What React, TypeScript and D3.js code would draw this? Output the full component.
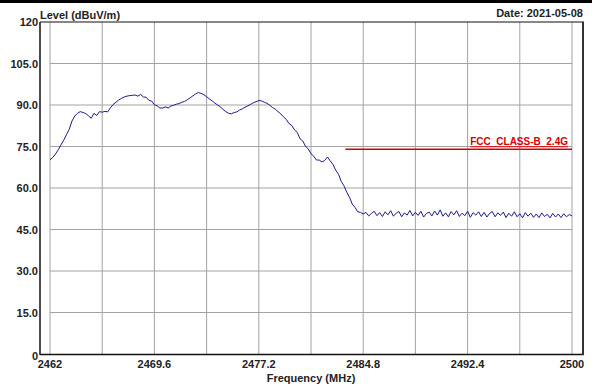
import React from "react";
import * as d3 from "d3";

// ---- data ----
const freqTicks = [2462, 2469.6, 2477.2, 2484.8, 2492.4, 2500];
const freqGrid = [2462, 2465.8, 2469.6, 2473.4, 2477.2, 2481, 2484.8, 2488.6, 2492.4, 2496.2, 2500];
const levelTicks = [0, 15, 30, 45, 60, 75, 90, 105, 120];
const levelTickLabels = ["0", "15.0", "30.0", "45.0", "60.0", "75.0", "90.0", "105.0", "120"];

const sweepStart = 2462; // MHz
const sweepStep = 0.2; // MHz
const traceLevels = [
  70.2, 71.0, 72.3, 73.8, 75.6, // 2462
  77.3, 79.3, 81.2, 84.2, 86.0, // 2463
  87.0, 87.6, 87.3, 86.9, 86.1, // 2464
  85.2, 87.0, 86.2, 87.6, 87.4, // 2465
  87.7, 87.5, 89.0, 90.2, 91.0, // 2466
  91.8, 92.4, 92.9, 93.2, 93.4, // 2467
  93.5, 93.6, 93.2, 93.8, 92.9, // 2468
  92.8, 91.7, 91.4, 90.1, 89.7, // 2469
  88.9, 88.9, 89.3, 88.9, 89.6, // 2470
  89.9, 90.3, 90.5, 91.0, 91.3, // 2471
  91.9, 92.6, 93.3, 94.0, 94.5, // 2472
  94.2, 93.7, 93.0, 92.2, 91.5, // 2473
  90.7, 90.0, 89.3, 88.4, 87.6, // 2474
  87.0, 86.8, 87.3, 87.5, 88.2, // 2475
  88.6, 89.2, 89.7, 90.2, 90.8, // 2476
  91.2, 91.6, 91.5, 91.0, 90.6, // 2477
  89.9, 89.1, 88.5, 87.6, 86.8, // 2478
  85.7, 84.8, 83.3, 82.6, 81.0, // 2479
  80.1, 77.8, 77.0, 75.1, 74.1, // 2480
  72.4, 71.5, 70.1, 70.1, 69.4, // 2481
  70.0, 71.2, 69.8, 68.5, 66.4, // 2482
  65.0, 62.4, 60.8, 58.5, 56.7, // 2483
  54.2, 53.0, 51.4, 51.2, 50.6, // 2484
  51.2, 49.9, 50.8, 51.6, 50.0, 51.1, 49.7, 51.4, 50.3, 51.8,
  49.8, 50.9, 51.5, 49.6, 51.0, 50.2, 51.9, 49.9, 51.2, 50.1,
  51.6, 49.5, 50.8, 51.3, 49.9, 51.7, 50.2, 52.1, 49.8, 51.0,
  49.6, 51.5, 50.3, 51.8, 49.7, 50.9, 50.0, 51.6, 49.4, 51.1,
  50.2, 51.4, 49.7, 51.2, 49.5, 50.8, 51.5, 49.6, 51.0, 50.1,
  51.3, 49.3, 50.9, 49.8, 51.4, 49.6, 50.7, 49.2, 51.1, 49.8,
  50.9, 49.4, 50.6, 49.3, 51.0, 49.7, 50.5, 49.2, 50.8, 49.5,
  50.6, 49.3, 50.7, 49.6, 50.4, 49.9,
];

const limitFreqs = [2483.5, 2500];
const limitLevels = [74, 74];
const limitName = "FCC_CLASS-B_2.4G";

const W = 592;
const H = 387;
const FONT = "Arial, 'Liberation Sans', sans-serif";
const TEXT = "#222";

export default function App() {
  const x = d3.scaleLinear().domain([2462, 2500]).range([50, 572]);
  const y = d3.scaleLinear().domain([0, 120]).range([354, 22]);

  const tracePts: [number, number][] = traceLevels.map((v, i) => [sweepStart + i * sweepStep, v]);
  const line = d3
    .line<[number, number]>()
    .x((d) => x(d[0]))
    .y((d) => y(d[1]));
  const limitPts: [number, number][] = limitFreqs.map((f, i) => [f, limitLevels[i]]);

  return (
    <div style={{ position: "fixed", left: 0, top: 0, width: W, height: H, background: "#fff" }}>
      <svg width={W} height={H} style={{ display: "block" }}>
        <rect x={0} y={0} width={W} height={H} fill="#fff" />
        <rect x={0} y={0} width={W} height={3} fill="#000" />

        {/* grid */}
        {freqGrid.map((f) => (
          <line key={"vg" + f} x1={x(f)} x2={x(f)} y1={22} y2={354} stroke="#a3a3a3" strokeWidth={1} />
        ))}
        {levelTicks
          .filter((v) => v > 0 && v < 120)
          .map((v) => (
            <line key={"hg" + v} x1={50} x2={572} y1={y(v)} y2={y(v)} stroke="#a3a3a3" strokeWidth={1} />
          ))}

        {/* frame */}
        <line x1={40} x2={584} y1={22} y2={22} stroke="#111" strokeWidth={1.2} />
        <line x1={40} x2={40} y1={22} y2={355} stroke="#111" strokeWidth={1.5} />
        <line x1={40} x2={584} y1={354.5} y2={354.5} stroke="#111" strokeWidth={1.5} />
        <line x1={583} x2={583} y1={22} y2={355} stroke="#333" strokeWidth={2} />

        {/* limit line */}
        <path d={line(limitPts) || ""} fill="none" stroke="#d40000" strokeWidth={1.3} />
        <text
          x={x(2500) - 4}
          y={y(74) - 4}
          textAnchor="end"
          fontFamily={FONT}
          fontSize={10}
          fontWeight="bold"
          fill="#d40000"
          textDecoration="underline"
        >
          {limitName}
        </text>

        {/* trace */}
        <path d={line(tracePts) || ""} fill="none" stroke="#1a1a8c" strokeWidth={1} />

        {/* y labels */}
        {levelTicks.map((v, i) => (
          <text
            key={"yl" + v}
            x={38}
            y={v === 0 ? y(v) + 6 : y(v) + 4}
            textAnchor="end"
            fontFamily={FONT}
            fontSize={11}
            fontWeight="bold"
            fill={TEXT}
          >
            {levelTickLabels[i]}
          </text>
        ))}

        {/* x labels */}
        {freqTicks.map((f) => (
          <text
            key={"xl" + f}
            x={x(f)}
            y={368}
            textAnchor="middle"
            fontFamily={FONT}
            fontSize={11}
            fontWeight="bold"
            fill={TEXT}
          >
            {String(f)}
          </text>
        ))}

        <text x={311} y={382} textAnchor="middle" fontFamily={FONT} fontSize={11} fontWeight="bold" fill={TEXT}>
          Frequency (MHz)
        </text>
        <text x={40} y={19} fontFamily={FONT} fontSize={11} fontWeight="bold" fill={TEXT}>
          Level (dBuV/m)
        </text>
        <text x={583} y={17} textAnchor="end" fontFamily={FONT} fontSize={11} fontWeight="bold" fill={TEXT}>
          Date: 2021-05-08
        </text>
      </svg>
    </div>
  );
}
